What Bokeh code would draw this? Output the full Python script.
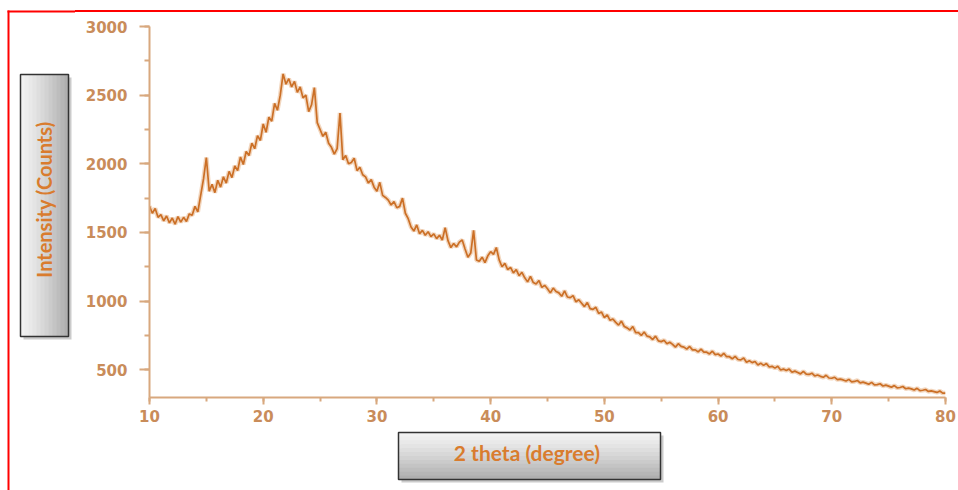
import math
from bokeh.plotting import figure
from bokeh.layouts import row, column
from bokeh.models import Range1d, SingleIntervalTicker, Spacer, Div
from bokeh.core.properties import value
from bokeh.embed import file_html
from bokeh.resources import INLINE

# ---- data (2 theta in 0.25 degree steps) ----
two_theta_start = 10.0
two_theta_step = 0.25
intensity = [
    1690, 1640, 1675, 1610,   # 10
    1630, 1585, 1620, 1570,   # 11
    1605, 1560, 1615, 1575,   # 12
    1610, 1580, 1635, 1625,   # 13
    1690, 1650, 1770, 1890,   # 14
    2045, 1800, 1850, 1790,   # 15
    1880, 1830, 1905, 1860,   # 16
    1945, 1900, 1985, 1950,   # 17
    2050, 1995, 2090, 2060,   # 18
    2150, 2110, 2205, 2170,   # 19
    2290, 2230, 2340, 2310,   # 20
    2440, 2390, 2500, 2655,   # 21
    2580, 2620, 2560, 2600,   # 22
    2520, 2560, 2480, 2500,   # 23
    2380, 2430, 2555, 2300,   # 24
    2250, 2200, 2230, 2150,   # 25
    2120, 2070, 2110, 2370,   # 26
    2030, 2060, 2000, 2010,   # 27
    2040, 1950, 1975, 1920,   # 28
    1905, 1860, 1885, 1830,   # 29
    1800, 1865, 1770, 1755,   # 30
    1735, 1700, 1725, 1680,   # 31
    1690, 1750, 1640, 1600,   # 32
    1540, 1510, 1555, 1490,   # 33
    1515, 1480, 1505, 1470,   # 34
    1490, 1455, 1480, 1445,   # 35
    1535, 1440, 1390, 1420,   # 36
    1395, 1430, 1445, 1380,   # 37
    1320, 1350, 1515, 1300,   # 38
    1290, 1320, 1280, 1330,   # 39
    1360, 1340, 1390, 1300,   # 40
    1250, 1275, 1230, 1245,   # 41
    1205, 1230, 1185, 1210,   # 42
    1170, 1140, 1180, 1135,   # 43
    1125, 1150, 1100, 1115,   # 44
    1090, 1060, 1095, 1070,   # 45
    1060, 1035, 1075, 1030,   # 46
    1025, 1040, 995, 1010,    # 47
    985, 960, 990, 945,       # 48
    940, 955, 910, 920,       # 49
    880, 900, 860, 870,       # 50
    845, 825, 855, 815,       # 51
    805, 790, 815, 770,       # 52
    770, 750, 775, 745,       # 53
    740, 720, 745, 710,       # 54
    705, 715, 690, 700,       # 55
    685, 665, 690, 670,       # 56
    665, 650, 670, 645,       # 57
    645, 630, 650, 628,       # 58
    628, 615, 635, 610,       # 59
    615, 600, 620, 595,       # 60
    595, 580, 598, 575,       # 61
    572, 585, 555, 565,       # 62
    552, 560, 535, 548,       # 63
    532, 545, 520, 525,       # 64
    512, 525, 498, 505,       # 65
    495, 505, 482, 490,       # 66
    480, 470, 488, 468,       # 67
    466, 475, 455, 462,       # 68
    452, 445, 460, 440,       # 69
    438, 445, 428, 432,       # 70
    426, 418, 430, 412,       # 71
    415, 422, 405, 410,       # 72
    403, 395, 408, 390,       # 73
    392, 398, 382, 388,       # 74
    381, 372, 385, 368,       # 75
    371, 378, 362, 366,       # 76
    361, 352, 365, 348,       # 77
    351, 356, 342, 346,       # 78
    341, 335, 345, 330,       # 79
    330,                      # 80
]
two_theta = [two_theta_start + two_theta_step * i for i in range(len(intensity))]

x_title = "2 theta  (degree)"
y_title = "Intensity (Counts)"

LINE = "#c8691e"
HALO = "#e2a56e"
AXIS = "#d8a87e"
TICK_TXT = "#c98c5a"
TITLE_TXT = "#d97c2e"
RED = "#ff0000"

LEFT_W, TOTAL_W, TOTAL_H = 75, 958, 490
RIGHT_W = TOTAL_W - LEFT_W
MAIN_H = 418
BOT_H = TOTAL_H - 12 - MAIN_H
FR_L, FR_R = 74, 13          # main frame borders inside the right column


def blank(w, h, xr, yr, bl=0, br=0):
    f = figure(width=w, height=h, output_backend="svg", toolbar_location=None,
               x_range=Range1d(*xr), y_range=Range1d(*yr),
               x_axis_type=None, y_axis_type=None,
               min_border_left=bl, min_border_right=br, min_border_top=0, min_border_bottom=0)
    f.outline_line_color = None
    f.background_fill_color = "white"
    f.border_fill_color = "white"
    return f


def gradient_box(f, l, r, t, b, horizontal):
    # page-pixel box (y measured downward) drawn in a figure whose y axis is 490 - page_y
    T, B = TOTAL_H - t, TOTAL_H - b
    f.quad(left=[l + 3], right=[r + 3], top=[T - 3], bottom=[B - 3],
           fill_color="#8c8c8c", fill_alpha=0.45, line_color=None)
    grays = [242, 238, 233, 228, 222, 216, 210, 203, 196, 189, 182, 175]
    n = len(grays)
    Ls, Rs, Ts, Bs, cols = [], [], [], [], []
    for i, g in enumerate(grays):
        cols.append("#%02x%02x%02x" % (g, g, g))
        if horizontal:
            Ls.append(l + (r - l) * i / n)
            Rs.append(l + (r - l) * (i + 1) / n + 0.6)
            Ts.append(T)
            Bs.append(B)
        else:
            Ls.append(l)
            Rs.append(r)
            Ts.append(T - (T - B) * i / n)
            Bs.append(T - (T - B) * (i + 1) / n - 0.6)
    f.quad(left=Ls, right=Rs, top=Ts, bottom=Bs, fill_color=cols, line_color=None)
    f.quad(left=[l], right=[r], top=[T], bottom=[B], fill_color=None,
           line_color="#333333", line_width=1.5)


# ---- left strip (page x 0..75): red border line + y title box ----
left = blank(LEFT_W, TOTAL_H, (0, LEFT_W), (0, TOTAL_H))
left.quad(left=[7], right=[9], top=[TOTAL_H - 10], bottom=[0], fill_color=RED, line_color=None)
left.quad(left=[7], right=[LEFT_W], top=[TOTAL_H - 10], bottom=[TOTAL_H - 12], fill_color=RED, line_color=None)
gradient_box(left, 20, 68, 74, 336, True)
left.text(x=[43], y=[TOTAL_H - 199], text=[y_title], angle=math.pi / 2,
          text_align="center", text_baseline="middle", text_color=TITLE_TXT,
          text_font=value("Lato"), text_font_style="bold", text_font_size=value("20px"))

# ---- red top border line (page y 10..12) ----
red_bar = Div(text="", width=RIGHT_W, height=2, margin=0,
              styles={"background-color": RED})

# ---- main chart ----
p = figure(width=RIGHT_W, height=MAIN_H, output_backend="svg", toolbar_location=None,
           x_range=Range1d(10, 80), y_range=Range1d(298, 3000),
           min_border_left=FR_L, min_border_right=FR_R, min_border_top=14, min_border_bottom=33)
p.outline_line_color = None
p.grid.visible = False
p.background_fill_color = "white"
p.border_fill_color = "white"

p.line(two_theta, intensity, line_color=HALO, line_width=4.5, line_alpha=0.45)
p.line(two_theta, intensity, line_color=LINE, line_width=1.7, line_alpha=0.95)

p.xaxis.ticker = SingleIntervalTicker(interval=10, num_minor_ticks=2)
p.yaxis.ticker = SingleIntervalTicker(interval=500, num_minor_ticks=2)
for ax in (p.xaxis, p.yaxis):
    ax.axis_line_color = AXIS
    ax.axis_line_width = 2
    ax.major_tick_line_color = AXIS
    ax.minor_tick_line_color = AXIS
    ax.major_tick_line_width = 2
    ax.minor_tick_line_width = 2
    ax.major_tick_in = 0
    ax.minor_tick_in = 0
    ax.major_label_text_color = TICK_TXT
    ax.major_label_text_font = "DejaVu Sans"
    ax.major_label_text_font_style = "bold"
    ax.major_label_text_font_size = "15px"
p.yaxis.major_tick_out = 10
p.yaxis.minor_tick_out = 5
p.yaxis.major_label_standoff = 12
p.xaxis.major_tick_out = 7
p.xaxis.minor_tick_out = 4
p.xaxis.major_label_standoff = 5

# ---- bottom strip (page y 430..490): x title box; frame = page x 149..945 ----
bot = blank(RIGHT_W, BOT_H, (LEFT_W + FR_L, TOTAL_W - FR_R), (0, BOT_H), FR_L, FR_R)
gradient_box(bot, 398, 660, 432, 479, False)
bot.text(x=[529], y=[TOTAL_H - 452], text=[x_title],
         text_align="center", text_baseline="middle", text_color=TITLE_TXT,
         text_font=value("Lato"), text_font_style="bold", text_font_size=value("21px"))

layout = row(left, column(Spacer(width=RIGHT_W, height=10), red_bar, p, bot, spacing=0), spacing=0)
open("out.html", "w").write(file_html(layout, INLINE))
